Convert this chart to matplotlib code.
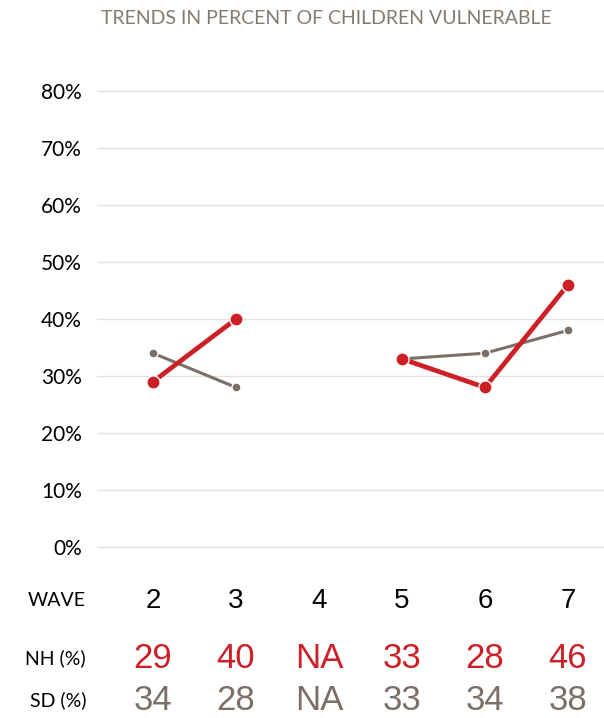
import numpy as np
import matplotlib.pyplot as plt
from matplotlib.transforms import blended_transform_factory

waves = [2, 3, 4, 5, 6, 7]
nh_pct = [29, 40, np.nan, 33, 28, 46]
sd_pct = [34, 28, np.nan, 33, 34, 38]
y_ticks = [0, 10, 20, 30, 40, 50, 60, 70, 80]

red = "#cc1f26"
grey = "#7b6f68"

fig = plt.figure(figsize=(6.04, 7.18), dpi=100)
# axes placed in figure fractions (pixels / size)
ax = fig.add_axes([97 / 604, 1 - 558.4 / 718, 507 / 604, (558.4 - 79.6) / 718])
ax.set_xlim(1.325, 7.434)
ax.set_ylim(-2, 82)

ax.plot(waves, sd_pct, color=grey, lw=2.2, marker="o", ms=6.5,
        mfc=grey, mec="white", mew=1, zorder=3, solid_capstyle="butt")
ax.plot(waves, nh_pct, color=red, lw=3.4, marker="o", ms=9.5,
        mfc=red, mec="white", mew=1, zorder=4, solid_capstyle="butt")

for t in y_ticks:
    ax.axhline(t, color="#e2e2e2", lw=1, zorder=1)

ax.set_yticks(y_ticks)
ax.set_yticklabels([f"{t}%" for t in y_ticks], family="Lato", fontsize=15)
ax.tick_params(axis="y", length=0, pad=11)
ax.set_xticks([])
for s in ax.spines.values():
    s.set_visible(False)

fig.text(326 / 604, 1 - 18 / 718, "TRENDS IN PERCENT OF CHILDREN VULNERABLE",
         ha="center", va="center", family="Lato",
         fontsize=14, color="#857a72")

tr = blended_transform_factory(ax.transData, fig.transFigure)
rows = [
    ("WAVE", 601, [str(w) for w in waves], "black", 20),
    ("NH (%)", 658, ["NA" if np.isnan(v) else str(int(v)) for v in nh_pct], red, 25),
    ("SD (%)", 700, ["NA" if np.isnan(v) else str(int(v)) for v in sd_pct], grey, 25),
]
for label, ypix, vals, col, fs in rows:
    yf = 1 - ypix / 718
    fig.text(86 / 604, yf, label, ha="right", va="center", family="Lato",
             fontsize=14, color="black")
    for w, v in zip(waves, vals):
        ax.text(w, yf, v, transform=tr, ha="center", va="center",
                family="Liberation Sans", fontsize=fs, color=col)

fig.savefig("out.png", dpi=100)
